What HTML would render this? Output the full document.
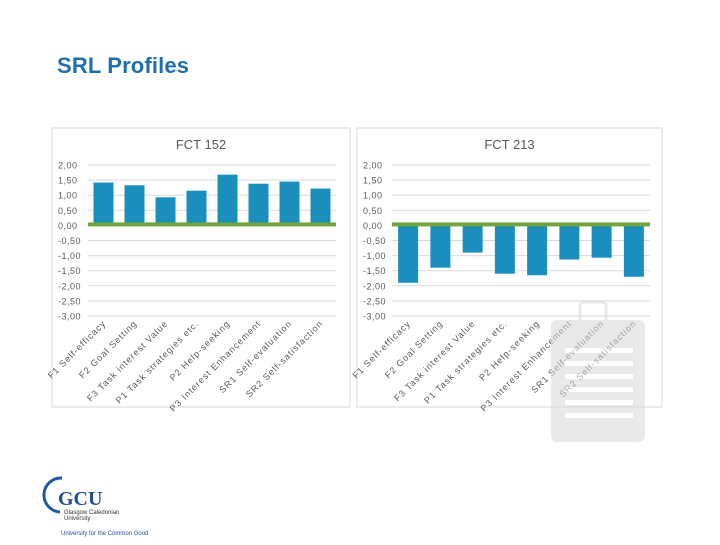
<!DOCTYPE html>
<html><head><meta charset="utf-8"><style>
body{margin:0;width:720px;height:540px;background:#fff;overflow:hidden;font-family:"Liberation Sans",sans-serif}
</style></head><body>
<svg id="s" width="720" height="540" xmlns="http://www.w3.org/2000/svg">
<text x="57" y="73" font-size="22" font-weight="bold" fill="#1f6fb0" font-family="Liberation Sans, sans-serif" textLength="132">SRL Profiles</text>
<g id="c1"></g><g id="c2"></g>
<g opacity="0.55">
<rect x="551" y="320" width="94" height="122" rx="6" fill="#d8d8d8"/>
<rect x="580" y="302" width="26" height="26" rx="4" fill="none" stroke="#d8d8d8" stroke-width="3"/>
<g fill="#fff"><rect x="565" y="348" width="68" height="5"/><rect x="565" y="361" width="68" height="5"/><rect x="565" y="374" width="68" height="5"/><rect x="565" y="387" width="68" height="5"/><rect x="565" y="400" width="68" height="5"/><rect x="565" y="413" width="68" height="5"/></g>
</g>
<g>
<path d="M62 478 A16 16 0 1 0 60 512" fill="none" stroke="#1f5aa0" stroke-width="3"/>
<text x="58" y="505" font-size="20" font-weight="bold" fill="#1f4f8f" font-family="Liberation Serif, serif">GCU</text>
<text x="64" y="514" font-size="6" fill="#333">Glasgow Caledonian</text>
<text x="64" y="520" font-size="6" fill="#333">University</text>
<text x="61" y="535" font-size="6" fill="#1f4f8f">University for the Common Good</text>
</g>
</svg>
<script>
const categories=["F1 Self-efficacy","F2 Goal Setting","F3 Task interest Value","P1 Task strategies etc.","P2 Help-seeking","P3 Interest Enhancement","SR1 Self-evaluation","SR2 Self-satisfaction"];
const fct152=[1.42,1.33,0.93,1.15,1.68,1.38,1.45,1.22];
const fct213=[-1.9,-1.4,-0.9,-1.6,-1.65,-1.13,-1.07,-1.7];
const yTicks=[2,1.5,1,0.5,0,-0.5,-1,-1.5,-2,-2.5,-3];
const NS="http://www.w3.org/2000/svg";
function mk(p,t,a){const e=document.createElementNS(NS,t);for(const k in a)e.setAttribute(k,a[k]);p.appendChild(e);return e;}
function chart(g,box,title,vals,key){
  const x0=box.px0,x1=box.px1,yTop=165,yBot=316;
  const y=v=>yTop+(2-v)/5*(yBot-yTop);
  const bw=(x1-x0)/categories.length;
  const fr=mk(g,'rect',{x:box.x,y:128,width:box.w,height:279,fill:'#fff',stroke:'#d9d9d9'});
  
  
  const t=mk(g,'text',{x:box.x+box.w/2,y:149,'text-anchor':'middle','font-size':13,fill:'#595959'});
  t.textContent=title;
  
  
  yTicks.forEach(v=>{
    const l=mk(g,'line',{x1:x0,x2:x1,y1:y(v),y2:y(v),stroke:'#d9d9d9'});
    
    
    const tx=mk(g,'text',{x:box.x+6,y:y(v)+3.5,'font-size':9,fill:'#595959','letter-spacing':'0.5'});
    tx.textContent=v.toFixed(2).replace('.',',');
    
    
  });
  vals.forEach((v,i)=>{
    const cx=x0+bw*(i+0.5);
    const r=mk(g,'rect',{x:cx-10,y:Math.min(y(v),y(0)),width:20,height:Math.abs(y(v)-y(0)),fill:'#1a8fbd'});
    
    
    const lb=mk(g,'text',{x:cx+3,y:324,'text-anchor':'end','font-size':9,fill:'#595959','letter-spacing':'1',transform:`rotate(-45 ${cx+3} 324)`});
    lb.textContent=categories[i];
    
    
  });
  const z=mk(g,'rect',{x:x0,y:y(0)-3,width:x1-x0,height:4,fill:'#6fa53a'});
  
  
}
chart(document.getElementById('c1'),{x:52,w:298,px0:88,px1:336},'FCT 152',fct152,'fct152');
chart(document.getElementById('c2'),{x:357,w:305,px0:392,px1:650},'FCT 213',fct213,'fct213');
</script>
</body></html>
